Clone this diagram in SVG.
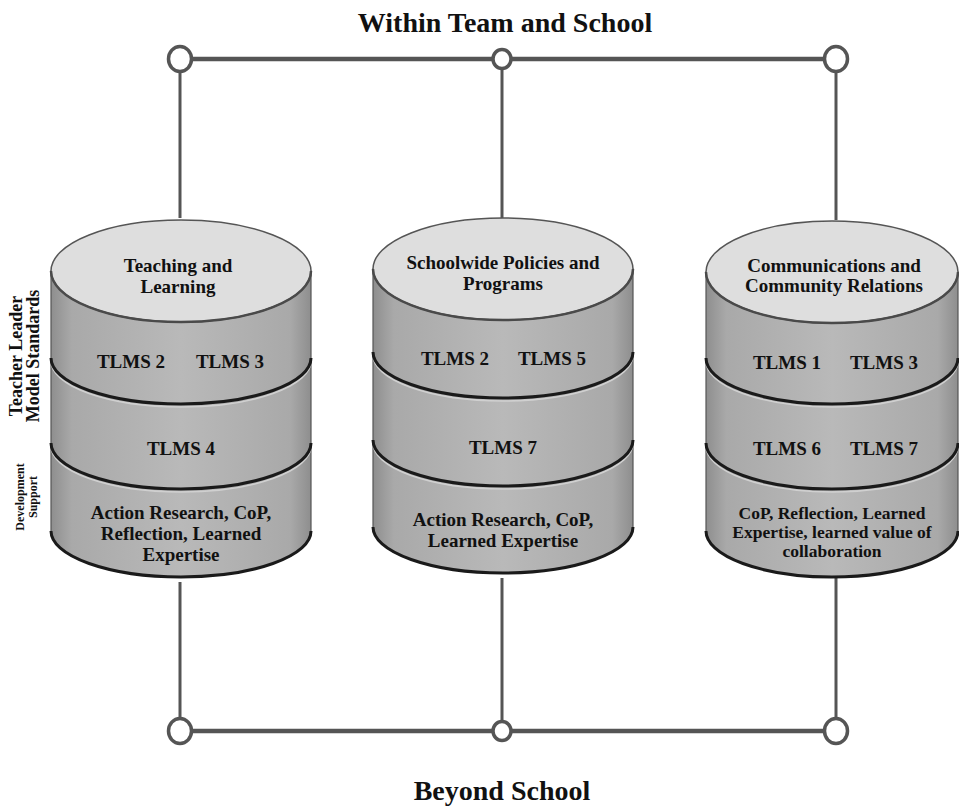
<svg xmlns="http://www.w3.org/2000/svg" width="959" height="808" viewBox="0 0 959 808">
<defs>
<linearGradient id="body" x1="0" y1="0" x2="1" y2="0">
<stop offset="0" stop-color="#8e8e8e"/>
<stop offset="0.08" stop-color="#a9a9a9"/>
<stop offset="0.5" stop-color="#b9b9b9"/>
<stop offset="0.92" stop-color="#a9a9a9"/>
<stop offset="1" stop-color="#8e8e8e"/>
</linearGradient>
<style>
.t{font-family:"Liberation Serif","Times New Roman",serif;font-weight:bold;fill:#111;text-anchor:middle}
.c{font-size:19px}
.s{font-size:17.5px}
.conn{stroke:#555;fill:none}
.ring{fill:#fff;stroke:#555;stroke-width:3.5}
.bodyp{fill:url(#body);stroke:#555;stroke-width:1.2}
.sep{fill:none;stroke:#1a1a1a;stroke-width:3}
.hl{fill:none;stroke:#d0d0d0;stroke-width:1.5}
.top{fill:#dedede;stroke:#555;stroke-width:1.5}
.toprim{fill:none;stroke:#4a4a4a;stroke-width:2.5}
</style>
</defs>
<rect width="959" height="808" fill="#fff"/>
<text class="t" x="505" y="32" font-size="28">Within Team and School</text>
<text class="t" x="502" y="800" font-size="28">Beyond School</text>

<g id="connectors">
<line class="conn" x1="180" y1="59" x2="836" y2="59" stroke-width="4.5"/>
<line class="conn" x1="180" y1="731" x2="836" y2="731" stroke-width="4.5"/>
<line class="conn" x1="180" y1="59" x2="180" y2="218" stroke-width="3"/>
<line class="conn" x1="502" y1="59" x2="502" y2="220" stroke-width="3"/>
<line class="conn" x1="836" y1="59" x2="836" y2="220" stroke-width="3"/>
<line class="conn" x1="180" y1="582" x2="180" y2="731" stroke-width="3"/>
<line class="conn" x1="502" y1="578" x2="502" y2="731" stroke-width="3"/>
<line class="conn" x1="836" y1="578" x2="836" y2="731" stroke-width="3"/>
<ellipse class="ring" cx="180" cy="59" rx="11.5" ry="12.5"/>
<ellipse class="ring" cx="502" cy="59" rx="9" ry="9.5"/>
<ellipse class="ring" cx="836" cy="59" rx="11.5" ry="12.5"/>
<ellipse class="ring" cx="180" cy="731" rx="11.5" ry="12.5"/>
<ellipse class="ring" cx="502" cy="731" rx="9" ry="9.5"/>
<ellipse class="ring" cx="836" cy="731" rx="11.5" ry="12.5"/>
</g>

<g id="side-labels">
<text class="t" font-size="18" transform="translate(22,356) rotate(-90)">Teacher Leader</text>
<text class="t" font-size="18" transform="translate(39,356) rotate(-90)">Model Standards</text>
<text class="t" font-size="12" transform="translate(24,497) rotate(-90)">Development</text>
<text class="t" font-size="12" transform="translate(37,497) rotate(-90)">Support</text>
</g>

<g id="cyl-teaching">
<path class="bodyp" d="M51,271 L51,531 A130,46 0 0 0 311,531 L311,271 Z"/>
<path class="hl" d="M51,361 A130,46 0 0 0 311,361"/>
<path class="sep" d="M51,358 A130,46 0 0 0 311,358"/>
<path class="hl" d="M51,446 A130,46 0 0 0 311,446"/>
<path class="sep" d="M51,443 A130,46 0 0 0 311,443"/>
<path class="sep" d="M51,531 A130,46 0 0 0 311,531"/>
<ellipse class="top" cx="181" cy="271" rx="130" ry="51"/>
<path class="toprim" d="M51,271 A130,51 0 0 0 311,271"/>
<text class="t c" x="178" y="272">Teaching and</text>
<text class="t c" x="178" y="293">Learning</text>
<text class="t c" x="131" y="368">TLMS 2</text>
<text class="t c" x="230" y="368">TLMS 3</text>
<text class="t c" x="181" y="455">TLMS 4</text>
<text class="t c" x="181" y="519">Action Research, CoP,</text>
<text class="t c" x="181" y="540">Reflection, Learned</text>
<text class="t c" x="181" y="561">Expertise</text>
</g>

<g id="cyl-schoolwide">
<path class="bodyp" d="M373,269 L373,527 A130,46 0 0 0 633,527 L633,269 Z"/>
<path class="hl" d="M373,355 A130,46 0 0 0 633,355"/>
<path class="sep" d="M373,352 A130,46 0 0 0 633,352"/>
<path class="hl" d="M373,443 A130,46 0 0 0 633,443"/>
<path class="sep" d="M373,440 A130,46 0 0 0 633,440"/>
<path class="sep" d="M373,527 A130,46 0 0 0 633,527"/>
<ellipse class="top" cx="503" cy="269" rx="130" ry="51"/>
<path class="toprim" d="M373,269 A130,51 0 0 0 633,269"/>
<text class="t c" x="503" y="269">Schoolwide Policies and</text>
<text class="t c" x="503" y="290">Programs</text>
<text class="t c" x="455" y="365">TLMS 2</text>
<text class="t c" x="552" y="365">TLMS 5</text>
<text class="t c" x="503" y="454">TLMS 7</text>
<text class="t c" x="503" y="526">Action Research, CoP,</text>
<text class="t c" x="503" y="547">Learned Expertise</text>
</g>

<g id="cyl-communications">
<path class="bodyp" d="M706,272 L706,531 A126,46 0 0 0 958,531 L958,272 Z"/>
<path class="hl" d="M706,361 A126,46 0 0 0 958,361"/>
<path class="sep" d="M706,358 A126,46 0 0 0 958,358"/>
<path class="hl" d="M706,446 A126,46 0 0 0 958,446"/>
<path class="sep" d="M706,443 A126,46 0 0 0 958,443"/>
<path class="sep" d="M706,531 A126,46 0 0 0 958,531"/>
<ellipse class="top" cx="832" cy="272" rx="126" ry="51"/>
<path class="toprim" d="M706,272 A126,51 0 0 0 958,272"/>
<text class="t c" x="834" y="272">Communications and</text>
<text class="t c" x="834" y="292">Community Relations</text>
<text class="t c" x="787" y="369">TLMS 1</text>
<text class="t c" x="884" y="369">TLMS 3</text>
<text class="t c" x="787" y="455">TLMS 6</text>
<text class="t c" x="884" y="455">TLMS 7</text>
<text class="t s" x="832" y="519">CoP, Reflection, Learned</text>
<text class="t s" x="832" y="538">Expertise, learned value of</text>
<text class="t s" x="832" y="557">collaboration</text>
</g>
</svg>
